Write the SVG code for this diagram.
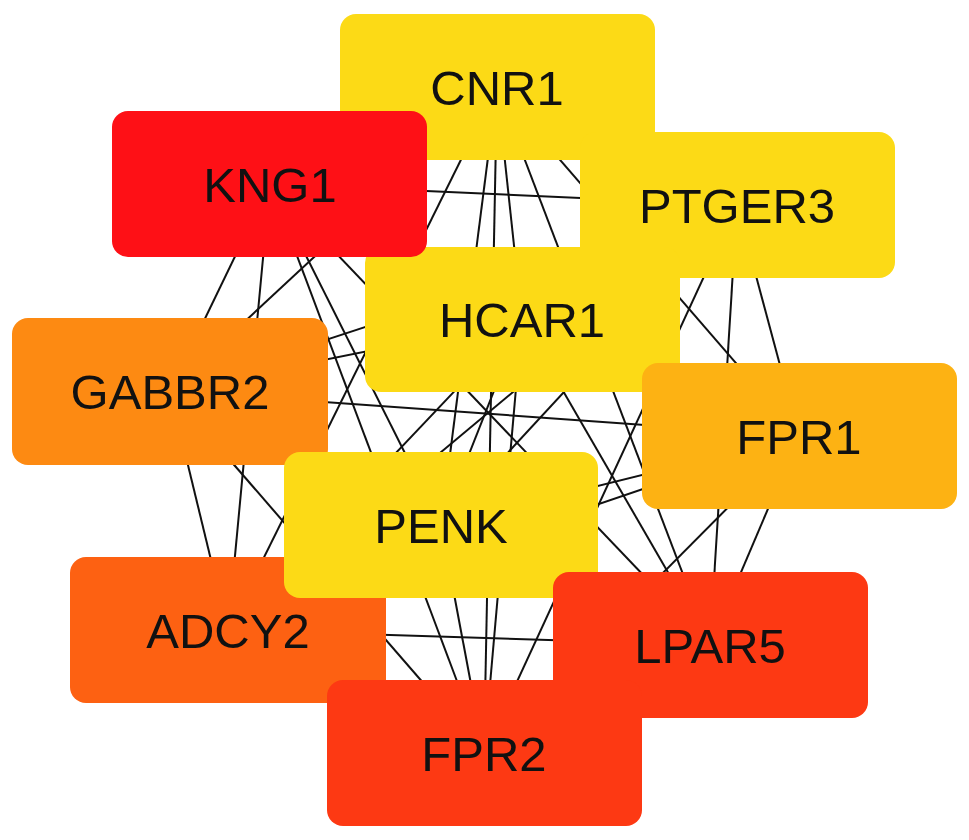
<svg xmlns="http://www.w3.org/2000/svg" width="969" height="840" viewBox="0 0 969 840">
<style>
.e{stroke:#111;stroke-width:2;fill:none}
.n rect{rx:16;ry:16}
.n text{font-family:"Liberation Sans",Arial,sans-serif;font-size:49px;fill:#111;text-anchor:middle}
.y{fill:#FCDA16}.r{fill:#FE1016}.o{fill:#FD8A12}.lo{fill:#FDB213}.do{fill:#FD6112}.rr{fill:#FD3913}
</style>
<rect width="969" height="840" fill="#fff"/>
<g id="edges">
<line class="e" x1="497" y1="87" x2="522" y2="320"/>
<line class="e" x1="497" y1="87" x2="170" y2="391"/>
<line class="e" x1="497" y1="87" x2="799" y2="436"/>
<line class="e" x1="497" y1="87" x2="441" y2="525"/>
<line class="e" x1="497" y1="87" x2="228" y2="630"/>
<line class="e" x1="497" y1="87" x2="710" y2="645"/>
<line class="e" x1="497" y1="87" x2="484" y2="753"/>
<line class="e" x1="270" y1="184" x2="737" y2="205"/>
<line class="e" x1="270" y1="184" x2="170" y2="391"/>
<line class="e" x1="270" y1="184" x2="441" y2="525"/>
<line class="e" x1="270" y1="184" x2="228" y2="630"/>
<line class="e" x1="270" y1="184" x2="710" y2="645"/>
<line class="e" x1="270" y1="184" x2="484" y2="753"/>
<line class="e" x1="737" y1="205" x2="170" y2="391"/>
<line class="e" x1="737" y1="205" x2="799" y2="436"/>
<line class="e" x1="737" y1="205" x2="441" y2="525"/>
<line class="e" x1="737" y1="205" x2="228" y2="630"/>
<line class="e" x1="737" y1="205" x2="710" y2="645"/>
<line class="e" x1="737" y1="205" x2="484" y2="753"/>
<line class="e" x1="522" y1="320" x2="170" y2="391"/>
<line class="e" x1="522" y1="320" x2="441" y2="525"/>
<line class="e" x1="522" y1="320" x2="228" y2="630"/>
<line class="e" x1="522" y1="320" x2="710" y2="645"/>
<line class="e" x1="522" y1="320" x2="484" y2="753"/>
<line class="e" x1="170" y1="391" x2="799" y2="436"/>
<line class="e" x1="170" y1="391" x2="228" y2="630"/>
<line class="e" x1="170" y1="391" x2="484" y2="753"/>
<line class="e" x1="799" y1="436" x2="441" y2="525"/>
<line class="e" x1="799" y1="436" x2="228" y2="630"/>
<line class="e" x1="799" y1="436" x2="710" y2="645"/>
<line class="e" x1="799" y1="436" x2="484" y2="753"/>
<line class="e" x1="441" y1="525" x2="484" y2="753"/>
<line class="e" x1="228" y1="630" x2="710" y2="645"/>
</g>
<g id="CNR1" class="n"><rect class="y" x="340" y="14" width="315" height="146"/><text x="497" y="105">CNR1</text></g>
<g id="PTGER3" class="n"><rect class="y" x="580" y="132" width="315" height="146"/><text x="737" y="223">PTGER3</text></g>
<g id="HCAR1" class="n"><rect class="y" x="365" y="247" width="315" height="145"/><text x="522" y="337">HCAR1</text></g>
<g id="KNG1" class="n"><rect class="r" x="112" y="111" width="315" height="146"/><text x="270" y="202">KNG1</text></g>
<g id="FPR1" class="n"><rect class="lo" x="642" y="363" width="315" height="146"/><text x="799" y="454">FPR1</text></g>
<g id="GABBR2" class="n"><rect class="o" x="12" y="318" width="316" height="147"/><text x="170" y="409">GABBR2</text></g>
<g id="ADCY2" class="n"><rect class="do" x="70" y="557" width="316" height="146"/><text x="228" y="648">ADCY2</text></g>
<g id="PENK" class="n"><rect class="y" x="284" y="452" width="314" height="146"/><text x="441" y="543">PENK</text></g>
<g id="LPAR5" class="n"><rect class="rr" x="553" y="572" width="315" height="146"/><text x="710" y="663">LPAR5</text></g>
<g id="FPR2" class="n"><rect class="rr" x="327" y="680" width="315" height="146"/><text x="484" y="771">FPR2</text></g>
</svg>
